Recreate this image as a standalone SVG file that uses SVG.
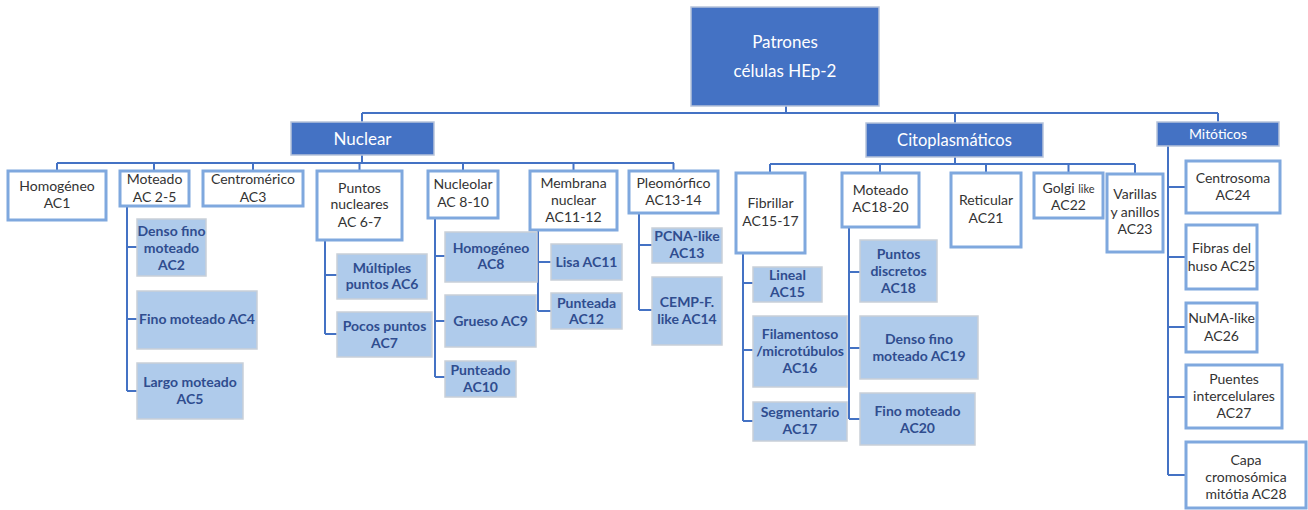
<svg xmlns="http://www.w3.org/2000/svg" width="1308" height="510" viewBox="0 0 1308 510">
<style>
.dk{fill:#4472C4;stroke:#B7C3DA;stroke-width:1.5}
.wb{fill:#fff;stroke:#7FA8DE;stroke-width:3}
.lb{fill:#AFCBEB;stroke:#C9CFD8;stroke-width:1.5}
.tw{font-family:Lato,"Liberation Sans",sans-serif;fill:#fff;text-anchor:middle}
.tn{font-family:Lato,"Liberation Sans",sans-serif;font-size:14px;fill:#333;text-anchor:middle}
.tb{font-family:Lato,"Liberation Sans",sans-serif;font-size:14px;font-weight:bold;fill:#2F4D8F;text-anchor:middle}
.c{fill:none;stroke:#4472C4;stroke-width:2}
</style>
<rect width="1308" height="510" fill="#fff"/>
<g id="connectors">
<path class="c" d="M786,106V113M362,113H1218M362,113V122M955,113V123M1218,113V122"/>
<path class="c" d="M362,155V163M57,163H674M57,163V171M154,163V171M253,163V171M359.5,163V171M463,163V171M573.5,163V171M673.5,163V171"/>
<path class="c" d="M955,157V164M770,164H1135M770,164V173M880,164V173M986,164V173M1068.5,164V173M1135,164V174"/>
<path class="c" d="M1168,146V475M1168,187H1186M1168,257H1186M1168,327H1186M1168,397H1186M1168,475H1186"/>
<path class="c" d="M127,206V391M127,247H137M127,319H137M127,391H137"/>
<path class="c" d="M325,240V334M325,275H337M325,334H337"/>
<path class="c" d="M435,218V377M435,256H445M435,321H445M435,377H445"/>
<path class="c" d="M538,230V311M538,262H551M538,311H551"/>
<path class="c" d="M639,213V310M639,245H652M639,310H652"/>
<path class="c" d="M743,253V421M743,283H753M743,350H753M743,421H753"/>
<path class="c" d="M849,227V419M849,272H860M849,348H860M849,419H860"/>
</g>
<g id="root"><rect class="dk" x="691" y="7" width="188" height="99"/><text class="tw" font-size="17" x="785" y="48">Patrones</text><text class="tw" font-size="17" x="785" y="77">células HEp-2</text></g>
<g id="nuclear"><rect class="dk" x="291" y="122" width="143" height="33"/><text class="tw" font-size="17" x="362.5" y="144.5">Nuclear</text></g>
<g id="citoplasmaticos"><rect class="dk" x="866" y="123" width="177" height="34"/><text class="tw" font-size="16.5" x="954.5" y="146">Citoplasmáticos</text></g>
<g id="mitoticos"><rect class="dk" x="1157" y="122" width="122" height="24"/><text class="tw" font-size="14" x="1218" y="139">Mitóticos</text></g>

<g id="ac1"><rect class="wb" x="8" y="171" width="98" height="49"/><text class="tn" x="57" y="191">Homogéneo</text><text class="tn" x="57" y="208">AC1</text></g>
<g id="ac2-5"><rect class="wb" x="120" y="171" width="69" height="35"/><text class="tn" x="154.5" y="184">Moteado</text><text class="tn" x="154.5" y="202">AC 2-5</text></g>
<g id="ac3"><rect class="wb" x="203" y="171" width="100" height="35"/><text class="tn" x="253" y="184">Centromérico</text><text class="tn" x="253" y="202">AC3</text></g>
<g id="ac6-7"><rect class="wb" x="317" y="171" width="85" height="69"/><text class="tn" x="359.5" y="193">Puntos</text><text class="tn" x="359.5" y="209">nucleares</text><text class="tn" x="359.5" y="227">AC 6-7</text></g>
<g id="ac8-10"><rect class="wb" x="428" y="171" width="70" height="47"/><text class="tn" x="463" y="189">Nucleolar</text><text class="tn" x="463" y="207">AC 8-10</text></g>
<g id="ac11-12"><rect class="wb" x="530" y="171" width="87" height="59"/><text class="tn" x="573.5" y="188">Membrana</text><text class="tn" x="573.5" y="205">nuclear</text><text class="tn" x="573.5" y="222">AC11-12</text></g>
<g id="ac13-14"><rect class="wb" x="629" y="171" width="89" height="42"/><text class="tn" x="673.5" y="188">Pleomórfico</text><text class="tn" x="673.5" y="205">AC13-14</text></g>
<g id="ac15-17"><rect class="wb" x="736" y="173" width="69" height="80"/><text class="tn" x="770.5" y="208">Fibrillar</text><text class="tn" x="770.5" y="226">AC15-17</text></g>
<g id="ac18-20"><rect class="wb" x="842" y="173" width="77" height="54"/><text class="tn" x="880.5" y="195">Moteado</text><text class="tn" x="880.5" y="212">AC18-20</text></g>
<g id="ac21"><rect class="wb" x="951" y="173" width="70" height="74"/><text class="tn" x="986" y="205">Reticular</text><text class="tn" x="986" y="223">AC21</text></g>
<g id="ac22"><rect class="wb" x="1034" y="173" width="69" height="45"/><text class="tn" x="1068.5" y="193">Golgi <tspan font-size="11">like</tspan></text><text class="tn" x="1068.5" y="210">AC22</text></g>
<g id="ac23"><rect class="wb" x="1107" y="174" width="56" height="78"/><text class="tn" x="1135" y="199">Varillas</text><text class="tn" x="1135" y="217">y anillos</text><text class="tn" x="1135" y="234">AC23</text></g>
<g id="ac24"><rect class="wb" x="1186" y="161" width="94" height="52"/><text class="tn" x="1233" y="183">Centrosoma</text><text class="tn" x="1233" y="200">AC24</text></g>
<g id="ac25"><rect class="wb" x="1186" y="225" width="71" height="64"/><text class="tn" x="1221.5" y="253">Fibras del</text><text class="tn" x="1221.5" y="271">huso AC25</text></g>
<g id="ac26"><rect class="wb" x="1186" y="303" width="71" height="49"/><text class="tn" x="1221.5" y="323">NuMA-like</text><text class="tn" x="1221.5" y="341">AC26</text></g>
<g id="ac27"><rect class="wb" x="1186" y="365" width="96" height="63"/><text class="tn" x="1234" y="384">Puentes</text><text class="tn" x="1234" y="401">intercelulares</text><text class="tn" x="1234" y="418">AC27</text></g>
<g id="ac28"><rect class="wb" x="1186" y="442" width="120" height="66"/><text class="tn" x="1246" y="465">Capa</text><text class="tn" x="1246" y="482">cromosómica</text><text class="tn" x="1246" y="499">mitótia AC28</text></g>

<g id="ac2"><rect class="lb" x="137" y="219" width="69" height="57"/><text class="tb" x="171.5" y="236">Denso fino</text><text class="tb" x="171.5" y="253">moteado</text><text class="tb" x="171.5" y="270">AC2</text></g>
<g id="ac4"><rect class="lb" x="137" y="291" width="120" height="58"/><text class="tb" x="197" y="324">Fino moteado AC4</text></g>
<g id="ac5"><rect class="lb" x="137" y="363" width="106" height="56"/><text class="tb" x="190" y="387">Largo moteado</text><text class="tb" x="190" y="404">AC5</text></g>
<g id="ac6"><rect class="lb" x="337" y="254" width="90" height="45"/><text class="tb" x="382" y="273">Múltiples</text><text class="tb" x="382" y="289">puntos AC6</text></g>
<g id="ac7"><rect class="lb" x="337" y="312" width="95" height="45"/><text class="tb" x="384.5" y="331">Pocos puntos</text><text class="tb" x="384.5" y="348">AC7</text></g>
<g id="ac8"><rect class="lb" x="445" y="232" width="92" height="50"/><text class="tb" x="491" y="253">Homogéneo</text><text class="tb" x="491" y="269">AC8</text></g>
<g id="ac9"><rect class="lb" x="445" y="295" width="91" height="52"/><text class="tb" x="490.5" y="326">Grueso AC9</text></g>
<g id="ac10"><rect class="lb" x="445" y="361" width="71" height="36"/><text class="tb" x="480.5" y="375">Punteado</text><text class="tb" x="480.5" y="392">AC10</text></g>
<g id="ac11"><rect class="lb" x="551" y="244" width="71" height="36"/><text class="tb" x="586.5" y="267">Lisa AC11</text></g>
<g id="ac12"><rect class="lb" x="551" y="293" width="71" height="36"/><text class="tb" x="586.5" y="308">Punteada</text><text class="tb" x="586.5" y="324">AC12</text></g>
<g id="ac13"><rect class="lb" x="652" y="228" width="70" height="35"/><text class="tb" x="687" y="241">PCNA-like</text><text class="tb" x="687" y="258">AC13</text></g>
<g id="ac14"><rect class="lb" x="652" y="277" width="70" height="68"/><text class="tb" x="687" y="307">CEMP-F.</text><text class="tb" x="687" y="324">like AC14</text></g>
<g id="ac15"><rect class="lb" x="753" y="267" width="69" height="35"/><text class="tb" x="787.5" y="280">Lineal</text><text class="tb" x="787.5" y="297">AC15</text></g>
<g id="ac16"><rect class="lb" x="753" y="316" width="94" height="71"/><text class="tb" x="800" y="339">Filamentoso</text><text class="tb" x="800" y="356">/microtúbulos</text><text class="tb" x="800" y="373">AC16</text></g>
<g id="ac17"><rect class="lb" x="753" y="402" width="94" height="39"/><text class="tb" x="800" y="417">Segmentario</text><text class="tb" x="800" y="434">AC17</text></g>
<g id="ac18"><rect class="lb" x="860" y="240" width="77" height="62"/><text class="tb" x="898.5" y="259">Puntos</text><text class="tb" x="898.5" y="276">discretos</text><text class="tb" x="898.5" y="293">AC18</text></g>
<g id="ac19"><rect class="lb" x="860" y="316" width="118" height="63"/><text class="tb" x="919" y="344">Denso fino</text><text class="tb" x="919" y="361">moteado AC19</text></g>
<g id="ac20"><rect class="lb" x="860" y="393" width="115" height="52"/><text class="tb" x="917.5" y="416">Fino moteado</text><text class="tb" x="917.5" y="433">AC20</text></g>
</svg>
